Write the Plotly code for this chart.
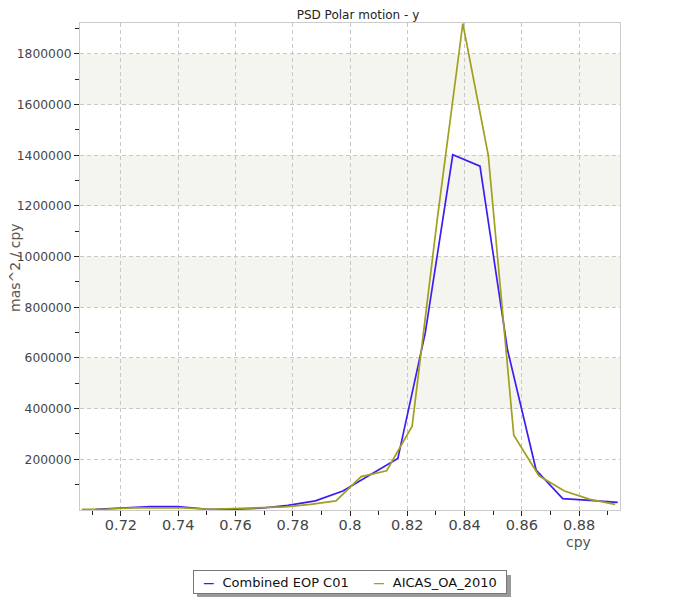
import plotly.graph_objects as go

# ---- data ----
blue_name = "Combined EOP C01"
blue_x = [0.7111, 0.7207, 0.7303, 0.7399, 0.7495, 0.7591, 0.7687, 0.7783, 0.7879, 0.7975,
          0.8071, 0.8167, 0.8263, 0.8359, 0.8454, 0.8550, 0.8650, 0.8743, 0.8839, 0.8935]
blue_y = [3000, 8000, 13000, 13000, 4000, 3000, 7000, 18000, 36000, 75000,
          140000, 203000, 700000, 1402000, 1357000, 633000, 158000, 45000, 38000, 30000]

olive_name = "AICAS_OA_2010"
olive_x = [0.7063, 0.7152, 0.7241, 0.7329, 0.7418, 0.7507, 0.7596, 0.7684, 0.7773, 0.7862,
           0.7951, 0.8039, 0.8128, 0.8217, 0.8305, 0.8394, 0.8483, 0.8572, 0.8660, 0.8749,
           0.8838, 0.8926]
olive_y = [3000, 4000, 8000, 9000, 8000, 3000, 6000, 7000, 12000, 22000,
           36000, 132000, 155000, 331000, 1150000, 1920000, 1400000, 295000, 135000, 75000,
           42000, 22000]

x_ticks = [0.72, 0.74, 0.76, 0.78, 0.80, 0.82, 0.84, 0.86, 0.88]
x_ticktext = ["0.72", "0.74", "0.76", "0.78", "0.8", "0.82", "0.84", "0.86", "0.88"]
x_minor = [0.71, 0.73, 0.75, 0.77, 0.79, 0.81, 0.83, 0.85, 0.87, 0.89]
y_ticks = [200000, 400000, 600000, 800000, 1000000, 1200000, 1400000, 1600000, 1800000]
y_minor = [100000, 300000, 500000, 700000, 900000, 1100000, 1300000, 1500000, 1700000, 1900000]
bands = [(400000, 600000), (800000, 1000000), (1200000, 1400000), (1600000, 1800000)]

title = "PSD Polar motion - y"
x_label = "cpy"
y_label = "mas^2 / cpy"

BLUE = "#3c1ef0"
OLIVE = "#a0a01e"
FONT = "DejaVu Sans"

fig = go.Figure()
fig.add_trace(go.Scatter(x=blue_x, y=blue_y, mode="lines", name=blue_name,
                         line=dict(color=BLUE, width=1.7), showlegend=False))
fig.add_trace(go.Scatter(x=olive_x, y=olive_y, mode="lines", name=olive_name,
                         line=dict(color=OLIVE, width=1.7), showlegend=False))

for y0, y1 in bands:
    fig.add_shape(type="rect", xref="paper", yref="y", x0=0, x1=1, y0=y0, y1=y1,
                  fillcolor="#f5f5f0", line=dict(width=0), layer="below")

# page has an 8px body margin; plot area target in page pixels: 80..620 x 23..510
OFF = 8
W, H = 700, 600
PL, PR, PT, PB = 80, 620, 23, 510
L, T = PL - OFF, PT - OFF
R, B = W - (PR - OFF), H - (PB - OFF)
pw, ph = PR - PL, PB - PT

def px_x(px):
    return (px - PL) / pw

def px_y(py):
    return (PB - py) / ph

# legend shadow
fig.add_shape(type="rect", xref="paper", yref="paper",
              x0=px_x(197), x1=px_x(511), y0=px_y(597), y1=px_y(575),
              fillcolor="#9a9a9a", line=dict(width=0), layer="above")

legend_text = (f"<span style='color:{BLUE};font-size:11px'><b>—</b></span>  {blue_name}"
               f"      <span style='color:{OLIVE};font-size:11px'><b>—</b></span>  {olive_name}")
fig.add_annotation(xref="paper", yref="paper", x=px_x(350), y=px_y(582),
                   xanchor="center", yanchor="middle", showarrow=False,
                   text=legend_text, font=dict(family=FONT, size=13, color="#111"),
                   width=306, height=16, align="center",
                   bgcolor="white", bordercolor="#777", borderwidth=1, borderpad=3)

fig.add_annotation(xref="paper", yref="paper", x=px_x(15), y=px_y(268),
                   xanchor="center", yanchor="middle", showarrow=False, textangle=-90,
                   text=y_label, font=dict(family=FONT, size=14, color="#555"))
fig.add_annotation(xref="paper", yref="paper", x=px_x(578), y=px_y(542),
                   xanchor="center", yanchor="middle", showarrow=False,
                   text=x_label, font=dict(family=FONT, size=14, color="#555"))

axis_common = dict(showline=True, mirror=True, linecolor="#cccccc", linewidth=1,
                   showgrid=True, gridcolor="#c8c8c8", gridwidth=1, griddash="4px,3px",
                   zeroline=False, ticks="outside", tickcolor="#222", ticklen=5, tickwidth=1)

fig.update_xaxes(**axis_common, range=[0.7057, 0.8943], tickmode="array",
                 tickvals=x_ticks, ticktext=x_ticktext,
                 tickfont=dict(family=FONT, size=14.5, color="#444"),
                 ticklabelstandoff=-3,
                 minor=dict(tickmode="array", tickvals=x_minor, ticks="outside",
                            ticklen=4, tickcolor="#222", showgrid=False))
fig.update_yaxes(**axis_common, range=[0, 1922000], tickmode="array",
                 tickvals=y_ticks, ticktext=[str(v) for v in y_ticks],
                 tickfont=dict(family=FONT, size=12.3, color="#444"),
                 minor=dict(tickmode="array", tickvals=y_minor, ticks="outside",
                            ticklen=4, tickcolor="#222", showgrid=False))

fig.update_layout(
    width=W, height=H,
    margin=dict(l=L, r=R, t=T, b=B, autoexpand=False),
    paper_bgcolor="white", plot_bgcolor="white",
    title=dict(text=title, x=0.5, xanchor="center", y=1 - (15 - OFF) / H, yanchor="middle",
               font=dict(family=FONT, size=12, color="#222")),
    showlegend=False,
)

fig.write_html("out.html")
